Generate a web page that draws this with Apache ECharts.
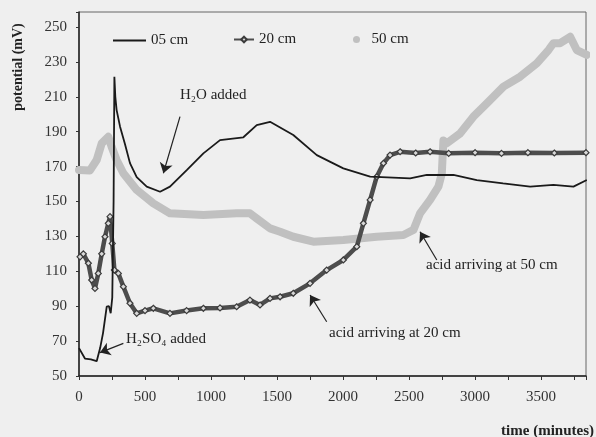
<!DOCTYPE html>
<html>
<head>
<meta charset="utf-8">
<script src="https://cdn.jsdelivr.net/npm/echarts@6/dist/echarts.min.js"></script>
<style>
  html, body {margin: 0; padding: 0; background: #efefef;}
  #chart {width: 596px; height: 437px;}
</style>
</head>
<body>
<div id="chart"></div>
<script>
// time (minutes) and potential (mV)
const t05 = [0, 45, 90, 134, 160, 182, 210, 227, 240, 252, 262, 268, 275, 285, 311, 348, 386, 437, 513, 614, 689, 816, 942, 1068, 1245, 1346, 1447, 1623, 1801, 2002, 2205, 2508, 2634, 2659, 2836, 3013, 3212, 3417, 3593, 3745, 3846];
const v05 = [66, 60, 59.5, 58.5, 66, 74.6, 89.7, 90, 86, 95, 150, 221.5, 210, 202.4, 192.9, 183, 172, 164, 158.5, 155.6, 158.5, 168, 177.6, 185.2, 186.8, 193.8, 195.7, 188.1, 176.6, 169, 164.2, 163.3, 165.2, 165.2, 165.2, 162.3, 160.4, 158.5, 159.5, 158.5, 162.3];

const t20 = [8, 33, 71, 96, 121, 146, 172, 197, 222, 235, 252, 268, 298, 336, 386, 437, 500, 563, 689, 815, 942, 1068, 1194, 1295, 1371, 1447, 1523, 1623, 1750, 1876, 2002, 2104, 2154, 2205, 2255, 2306, 2356, 2432, 2550, 2659, 2800, 3000, 3200, 3400, 3600, 3840];
const v20 = [118.3, 120, 114.6, 105, 100.2, 108.8, 120, 129.8, 137.5, 141.3, 126, 110.7, 108.8, 101.2, 91.7, 85.9, 87.5, 88.8, 85.9, 87.5, 88.8, 89, 89.7, 93.5, 90.7, 94.5, 95.4, 97.4, 103.1, 110.7, 116.5, 124.1, 137.5, 150.9, 164.2, 171.9, 176.6, 178.5, 177.8, 178.5, 177.6, 178, 177.6, 178, 177.8, 178];

const t50 = [0, 83, 134, 172, 222, 247, 285, 336, 437, 563, 689, 942, 1194, 1295, 1346, 1447, 1523, 1623, 1775, 2002, 2255, 2457, 2533, 2583, 2659, 2722, 2748, 2760, 2785, 2886, 2987, 3089, 3215, 3341, 3467, 3556, 3593, 3644, 3720, 3770, 3846];
const v50 = [168, 167.8, 173.8, 183.3, 187.1, 181.4, 173.8, 166.2, 156.6, 148.9, 143.2, 142.3, 143.2, 143.2, 140.3, 134.6, 132.7, 129.8, 127, 127.9, 129.8, 130.8, 133.7, 143.2, 150.9, 158.5, 166.1, 185, 183.3, 189, 198.6, 206.2, 215.8, 221.5, 229.1, 236.8, 240.7, 240.7, 244.4, 236.8, 234];

const xTicks = [0, 500, 1000, 1500, 2000, 2500, 3000, 3500];
const yTicks = [50, 70, 90, 110, 130, 150, 170, 190, 210, 230, 250];

const pairs = (ts, vs) => ts.map((t, i) => [t, vs[i]]);

const serif = 'Liberation Serif';
const arrowLine = (from, to) => [
  {coord: from, symbol: 'none'},
  {coord: to, symbol: 'arrow'}
];

const chart = echarts.init(document.getElementById('chart'));
chart.setOption({
  backgroundColor: '#efefef',
  animation: false,
  grid: {left: 79, right: 10, top: 12, bottom: 61, show: true, borderColor: '#666', borderWidth: 1},
  legend: [
    {data: [{name: '05 cm', icon: 'rect'}], left: 108, top: 28, itemWidth: 33, itemHeight: 2, itemGap: 0,
      textStyle: {fontFamily: serif, fontSize: 15, color: '#222'}},
    {data: ['20 cm'], left: 228, top: 27, itemWidth: 20, itemHeight: 7,
      textStyle: {fontFamily: serif, fontSize: 15, color: '#222'}},
    {data: [{name: '50 cm', icon: 'circle'}], left: 348, top: 27, itemWidth: 20, itemHeight: 7,
      textStyle: {fontFamily: serif, fontSize: 15, color: '#222'}}
  ],
  xAxis: {
    type: 'value', min: 0, max: 3840, interval: 250,
    axisLine: {lineStyle: {color: '#222', width: 1.5}},
    axisTick: {show: true, length: 4, lineStyle: {color: '#333'}},
    splitLine: {show: false},
    axisLabel: {
      fontFamily: serif, fontSize: 15, color: '#333', margin: 14,
      formatter: v => xTicks.includes(v) ? String(v) : ''
    }
  },
  yAxis: {
    type: 'value', min: 50, max: 258.6, interval: 20,
    axisLine: {show: true, lineStyle: {color: '#222', width: 1.5}},
    axisTick: {show: true, length: 3, lineStyle: {color: '#333'}},
    splitLine: {show: false},
    axisLabel: {
      fontFamily: serif, fontSize: 15, color: '#333', margin: 12,
      formatter: v => yTicks.includes(v) ? String(v) : ''
    }
  },
  series: [
    {
      name: '50 cm', type: 'line', data: pairs(t50, v50),
      showSymbol: false, symbol: 'circle', symbolSize: 7,
      lineStyle: {color: '#c0c0c0', width: 8, cap: 'round', join: 'round'},
      itemStyle: {color: '#c0c0c0'}, z: 1
    },
    {
      name: '20 cm', type: 'line', data: pairs(t20, v20),
      symbol: 'diamond', symbolSize: 6,
      lineStyle: {color: '#4d4d4d', width: 4.5},
      itemStyle: {color: '#d8d8d8', borderColor: '#3c3c3c', borderWidth: 1.2}, z: 2
    },
    {
      name: '05 cm', type: 'line', data: pairs(t05, v05),
      showSymbol: false, symbol: 'none',
      lineStyle: {color: '#1a1a1a', width: 1.8},
      itemStyle: {color: '#1a1a1a'}, z: 3,
      markLine: {
        silent: true, symbolSize: 10,
        label: {show: false},
        lineStyle: {color: '#222', width: 1.2, type: 'solid'},
        data: [
          arrowLine([765, 198.6], [639, 166.2]),
          arrowLine([336, 68.7], [159, 63.4]),
          arrowLine([1876, 81.1], [1750, 96.4]),
          arrowLine([2710, 116.5], [2583, 132.7])
        ]
      }
    }
  ],
  graphic: [
    {type: 'text', left: 180, top: 88, style: {text: 'H₂O added', font: '15px "Liberation Serif"', fill: '#222'}},
    {type: 'text', left: 126, top: 332, style: {text: 'H₂SO₄ added', font: '15px "Liberation Serif"', fill: '#222'}},
    {type: 'text', left: 329, top: 326, style: {text: 'acid arriving at 20 cm', font: '15px "Liberation Serif"', fill: '#222'}},
    {type: 'text', left: 426, top: 258, style: {text: 'acid arriving at 50 cm', font: '15px "Liberation Serif"', fill: '#222'}},
    {type: 'text', x: 18, y: 67, rotation: Math.PI / 2,
      style: {text: 'potential (mV)', font: 'bold 14px "Liberation Serif"', fill: '#222', align: 'center', verticalAlign: 'middle'}},
    {type: 'text', right: 2, top: 424, style: {text: 'time (minutes)', font: 'bold 15px "Liberation Serif"', fill: '#222'}}
  ]
});
</script>
</body>
</html>
